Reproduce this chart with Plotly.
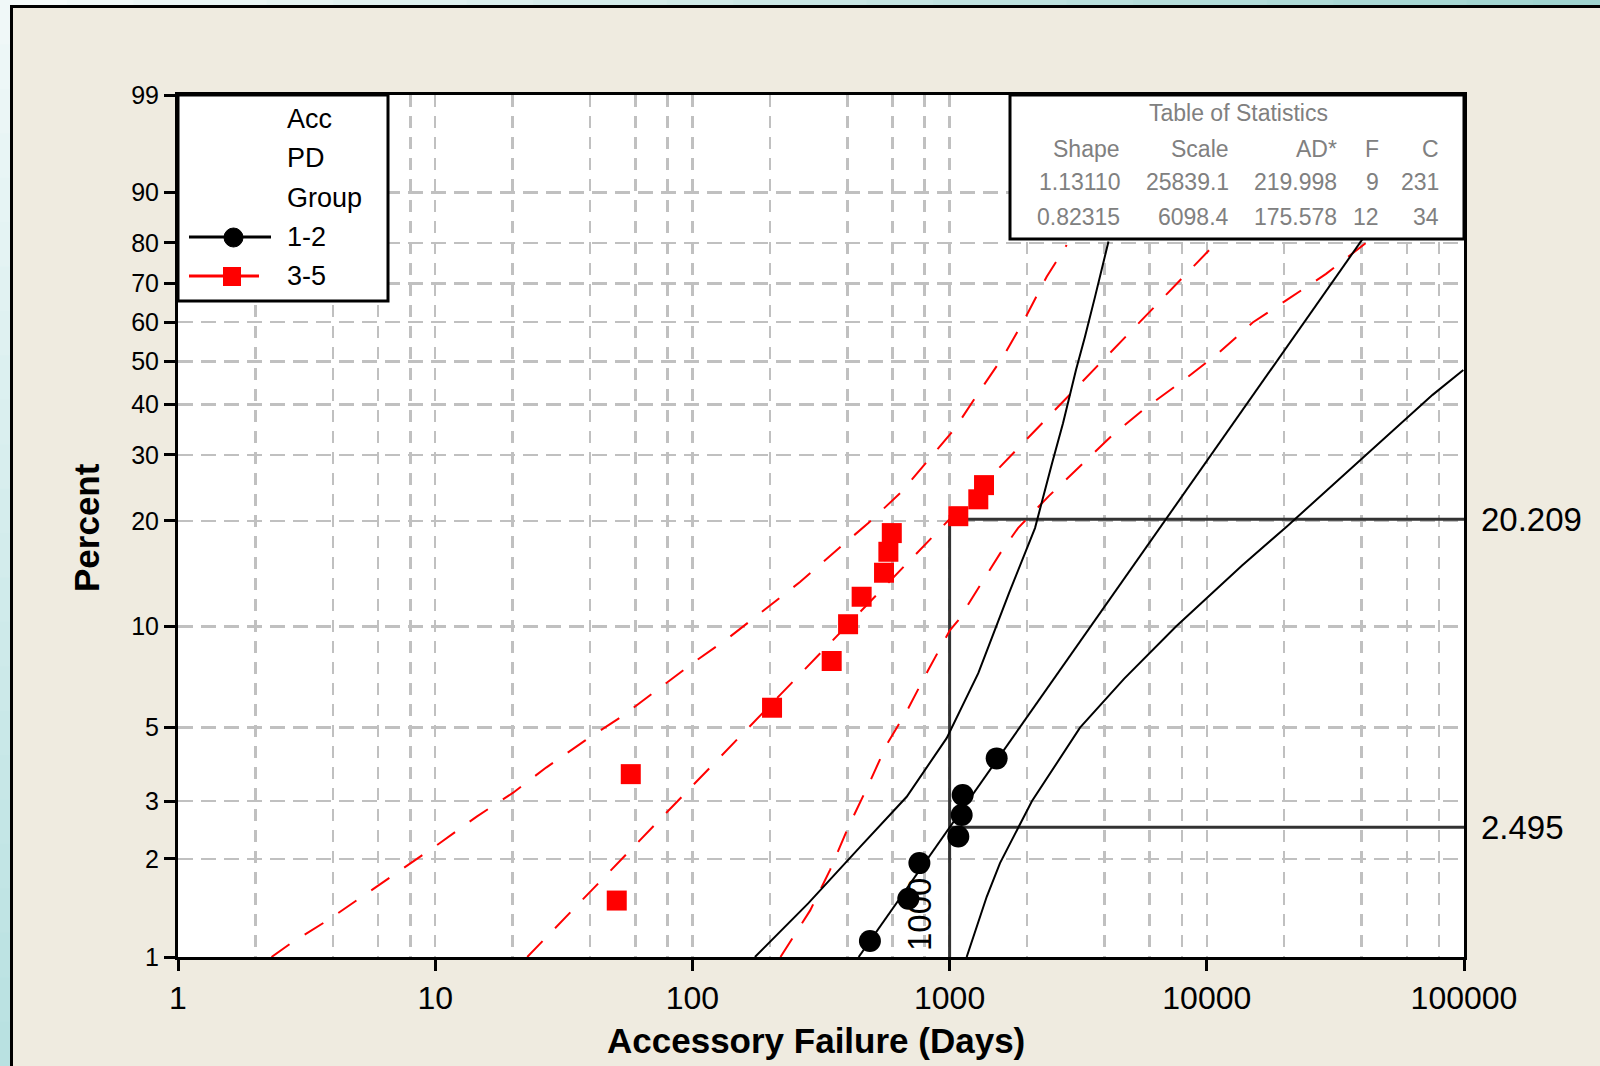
import numpy as np
import plotly.graph_objects as go

# ---------------- data ----------------
# Group 1-2 (black circles): failure times (days) and plotted percents
g12_days = [490, 691, 763, 1081, 1114, 1124, 1524]
g12_pct = [1.12, 1.51, 1.94, 2.34, 2.72, 3.13, 4.04]

# Group 3-5 (red squares)
g35_days = [50.8, 57.6, 204, 348, 403, 455, 556, 578, 596, 1081, 1293, 1361]
g35_pct = [1.49, 3.62, 5.74, 7.91, 10.15, 12.2, 14.3, 16.4, 18.5, 20.6, 22.9, 25.0]

# Fitted Weibull lines (straight on this paper: end points)
g12_fit_days = [443, 99700]
g12_fit_pct = [1, 99]
g35_fit_days = [22.8, 39000]
g35_fit_pct = [1, 99]

# Confidence bands, group 1-2
g12_lcb_days = [175, 282, 448, 681, 974, 1293, 1702, 2148, 2501, 2760, 3100, 3360, 3676, 3984, 4147]
g12_lcb_pct = [1.0, 1.46, 2.17, 3.09, 4.65, 7.28, 12.5, 19.1, 28.5, 36.0, 47.9, 56.2, 66.6, 75.9, 80.3]
g12_ucb_days = [1165, 1394, 1570, 1823, 2091, 3214, 4765, 7590, 13710, 20480, 24090, 28420,
                34670, 47480, 63910, 75490, 99400]
g12_ucb_pct = [1.0, 1.53, 1.94, 2.45, 3.0, 5.0, 7.0, 10.0, 15.0, 19.3, 21.4, 23.8,
               26.9, 32.4, 38.4, 42.1, 47.9]

# Confidence bands, group 3-5
g35_lcb_days = [2.31, 2.74, 3.84, 5.42, 7.56, 10.4, 14.5, 20.1, 27.0, 38.2, 53.1, 73.7, 102, 138,
                192, 262, 358, 482, 651, 1050, 1293, 1617, 1965, 2385, 2852]
g35_lcb_pct = [1.0, 1.10, 1.30, 1.57, 1.88, 2.23, 2.69, 3.18, 3.79, 4.57, 5.40, 6.52, 7.87, 9.25,
               11.2, 13.45, 16.4, 19.7, 24.0, 35.0, 42.5, 51.2, 61.0, 71.8, 79.5]
g35_ucb_days = [220, 287, 343, 404, 483, 569, 691, 826, 1004, 1078, 1570, 1845, 2435, 3214, 4305,
                5801, 8057, 11120, 15080, 20690, 29080, 41590]
g35_ucb_pct = [1.0, 1.39, 1.85, 2.50, 3.35, 4.44, 5.72, 7.44, 9.76, 10.4, 16.2, 19.1, 23.4, 28.1,
               33.7, 39.3, 45.3, 52.1, 59.9, 66.0, 72.5, 80.0]

# Reference lines at 1000 days
ref_days = 1000
ref_pct = [20.209, 2.495]
ref_labels = ["20.209", "2.495"]

# Axis ticks
y_ticks = [1, 2, 3, 5, 10, 20, 30, 40, 50, 60, 70, 80, 90, 99]
x_ticks = [1, 10, 100, 1000, 10000, 100000]
x_tick_labels = ["1", "10", "100", "1000", "10000", "100000"]
x_minor = [m * 10 ** k for k in range(5) for m in (2, 4, 6, 8)]

# Table of statistics
stat_title = "Table of Statistics"
stat_cols = ["Shape", "Scale", "AD*", "F", "C"]
stat_rows = [["1.13110", "25839.1", "219.998", "9", "231"],
             ["0.82315", "6098.4", "175.578", "12", "34"]]

legend_header = ["Acc", "PD", "Group"]
group_names = ["1-2", "3-5"]


# ---------------- helpers ----------------
def wb(p):
    """Weibull probability-paper transform of a percent."""
    p = np.asarray(p, dtype=float) / 100.0
    return np.log(-np.log(1.0 - p))


W, H = 1600, 1066
L, R, T, B = 178, 1464, 95, 957  # plot area in pixels


def px(x):
    return (x - L) / (R - L)


def py(y):
    return (B - y) / (B - T)


FONT = "Liberation Sans, Arial, sans-serif"
RED = "#FF0000"
BEIGE = "#EFEBE0"

fig = go.Figure()

# reference lines
yr = wb(ref_pct)
fig.add_trace(go.Scatter(x=[ref_days, ref_days], y=[wb(1), yr[0]], mode="lines",
                         line=dict(color="#333333", width=3), hoverinfo="skip", showlegend=False))
for v in yr:
    fig.add_trace(go.Scatter(x=[ref_days, 100000], y=[v, v], mode="lines",
                             line=dict(color="#333333", width=3), hoverinfo="skip", showlegend=False))

# red group lines (dashed)
red_dash = dict(color=RED, width=2, dash="22px,18px")
for d, p in [(g35_lcb_days, g35_lcb_pct), (g35_fit_days, g35_fit_pct), (g35_ucb_days, g35_ucb_pct)]:
    fig.add_trace(go.Scatter(x=d, y=wb(p), mode="lines", line=red_dash,
                             hoverinfo="skip", showlegend=False))

# black group lines (solid)
for d, p in [(g12_lcb_days, g12_lcb_pct), (g12_fit_days, g12_fit_pct), (g12_ucb_days, g12_ucb_pct)]:
    fig.add_trace(go.Scatter(x=d, y=wb(p), mode="lines", line=dict(color="black", width=2),
                             hoverinfo="skip", showlegend=False))

# points
fig.add_trace(go.Scatter(x=g35_days, y=wb(g35_pct), mode="markers", name="3-5",
                         marker=dict(symbol="square", size=20, color=RED, line=dict(width=0)),
                         showlegend=False))
fig.add_trace(go.Scatter(x=g12_days, y=wb(g12_pct), mode="markers", name="1-2",
                         marker=dict(symbol="circle", size=22, color="black", line=dict(width=0)),
                         showlegend=False))

shapes = []
annotations = []

# ---- outer window decoration (gradient strips + frame) ----
n = 24
for i in range(n):
    t = i / (n - 1)
    c = (int(244 - t * (244 - 160)), int(250 - t * (250 - 212)), int(250 - t * (250 - 208)))
    col = "rgb(%d,%d,%d)" % c
    shapes.append(dict(type="rect", xref="paper", yref="paper", layer="above",
                       x0=px(i * W / n), x1=px((i + 1) * W / n + 1), y0=py(5), y1=py(0),
                       fillcolor=col, line=dict(width=0)))
    c2 = (int(240 - t * (240 - 185)), int(248 - t * (248 - 225)), int(248 - t * (248 - 225)))
    col2 = "rgb(%d,%d,%d)" % c2
    shapes.append(dict(type="rect", xref="paper", yref="paper", layer="above",
                       x0=px(0), x1=px(10), y0=py((i + 1) * H / n + 1), y1=py(i * H / n),
                       fillcolor=col2, line=dict(width=0)))
shapes.append(dict(type="line", xref="paper", yref="paper", layer="above",
                   x0=px(10), x1=px(W), y0=py(6.5), y1=py(6.5), line=dict(color="black", width=3)))
shapes.append(dict(type="line", xref="paper", yref="paper", layer="above",
                   x0=px(11.5), x1=px(11.5), y0=py(5), y1=py(H), line=dict(color="black", width=3)))

# ---- legend box ----
shapes.append(dict(type="rect", xref="paper", yref="paper", layer="above",
                   x0=px(L), x1=px(388), y0=py(301), y1=py(T),
                   fillcolor="white", line=dict(color="black", width=3)))
legend_y = [119, 158, 198, 237, 276]
for txt, yy in zip(legend_header + group_names, legend_y):
    annotations.append(dict(text=txt, xref="paper", yref="paper", x=px(285), y=py(yy),
                            xanchor="left", yanchor="middle", showarrow=False,
                            font=dict(family=FONT, size=27, color="black")))
# legend symbols
shapes.append(dict(type="line", xref="paper", yref="paper", layer="above",
                   x0=px(189), x1=px(271), y0=py(237), y1=py(237), line=dict(color="black", width=3)))
shapes.append(dict(type="circle", xref="paper", yref="paper", layer="above",
                   x0=px(224), x1=px(243), y0=py(247), y1=py(228), fillcolor="black",
                   line=dict(color="black", width=1)))
shapes.append(dict(type="line", xref="paper", yref="paper", layer="above",
                   x0=px(189), x1=px(259), y0=py(276), y1=py(276), line=dict(color=RED, width=3)))
shapes.append(dict(type="rect", xref="paper", yref="paper", layer="above",
                   x0=px(223), x1=px(241), y0=py(286), y1=py(267), fillcolor=RED,
                   line=dict(color=RED, width=0)))

# ---- table of statistics ----
shapes.append(dict(type="rect", xref="paper", yref="paper", layer="above",
                   x0=px(1010), x1=px(R), y0=py(239), y1=py(T),
                   fillcolor="white", line=dict(color="black", width=3)))
GRAY = "#808080"
annotations.append(dict(text=stat_title, xref="paper", yref="paper", x=px(1238), y=py(113),
                        xanchor="center", yanchor="middle", showarrow=False,
                        font=dict(family=FONT, size=23, color=GRAY)))
col_right = [1122, 1231, 1339, 1381, 1441]
for txt, xr in zip(stat_cols, col_right):
    annotations.append(dict(text=txt, xref="paper", yref="paper", x=px(xr), y=py(149),
                            xanchor="right", yanchor="middle", showarrow=False,
                            font=dict(family=FONT, size=23, color=GRAY)))
for row, yy in zip(stat_rows, [182, 217]):
    for txt, xr in zip(row, col_right):
        annotations.append(dict(text=txt, xref="paper", yref="paper", x=px(xr), y=py(yy),
                                xanchor="right", yanchor="middle", showarrow=False,
                                font=dict(family=FONT, size=23, color=GRAY)))

# ---- reference labels ----
for lab, v in zip(ref_labels, yr):
    annotations.append(dict(text=lab, xref="paper", yref="y", x=px(1479), y=v,
                            xanchor="left", yanchor="middle", showarrow=False,
                            font=dict(family=FONT, size=33, color="black")))
annotations.append(dict(text="1000", xref="paper", yref="paper", x=px(919), y=py(915),
                        xanchor="center", yanchor="middle", textangle=-90, showarrow=False,
                        font=dict(family=FONT, size=33, color="black")))

# ---- axis titles ----
annotations.append(dict(text="<b>Accessory Failure (Days)</b>", xref="paper", yref="paper",
                        x=px(816), y=py(1040), xanchor="center", yanchor="middle", showarrow=False,
                        font=dict(family=FONT, size=35, color="black")))
annotations.append(dict(text="<b>Percent</b>", xref="paper", yref="paper",
                        x=px(86), y=py(528), xanchor="center", yanchor="middle", textangle=-90,
                        showarrow=False, font=dict(family=FONT, size=35, color="black")))

fig.update_layout(
    width=W, height=H,
    margin=dict(l=L, r=W - R, t=T, b=H - B, pad=0),
    paper_bgcolor=BEIGE, plot_bgcolor="white",
    showlegend=False,
    shapes=shapes, annotations=annotations,
    xaxis=dict(type="log", range=[0, 5], tickvals=x_ticks, ticktext=x_tick_labels,
               ticks="outside", ticklen=11, tickwidth=3, tickcolor="black",
               tickfont=dict(family=FONT, size=32, color="black"),
               showline=True, linecolor="black", linewidth=3, mirror=True,
               showgrid=True, gridcolor="#C0C0C0", gridwidth=2.5, griddash="12px,9px",
               minor=dict(tickvals=x_minor, ticks="", showgrid=True, gridcolor="#C0C0C0",
                          gridwidth=2.5, griddash="12px,9px"),
               zeroline=False, fixedrange=True),
    yaxis=dict(range=[float(wb(1)), float(wb(99))], tickvals=list(wb(y_ticks)),
               ticktext=[str(v) for v in y_ticks],
               ticks="outside", ticklen=11, tickwidth=3, tickcolor="black",
               tickfont=dict(family=FONT, size=25, color="black"),
               showline=True, linecolor="black", linewidth=3, mirror=True,
               showgrid=True, gridcolor="#C0C0C0", gridwidth=2.5, griddash="15px,8px",
               zeroline=False, fixedrange=True),
)

fig.write_html("out.html", config={"displayModeBar": False, "staticPlot": True},
               post_script="document.body.style.margin='0px';document.body.style.overflow='hidden';")
